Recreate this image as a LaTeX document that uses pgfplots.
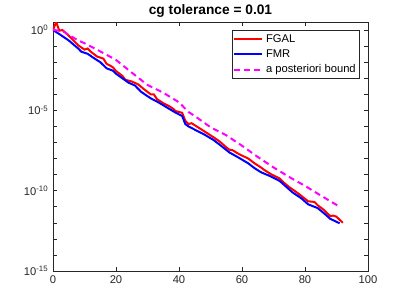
\documentclass[border=0pt]{standalone}
\usepackage{pgfplots}
\pgfplotsset{compat=1.18}
\usepackage{fontspec}
\setmainfont{Liberation Sans}
\definecolor{axgray}{rgb}{0.15,0.15,0.15}
\definecolor{mag}{rgb}{1,0,1}
\definecolor{pred}{rgb}{1,0,0}
\definecolor{pblue}{rgb}{0,0,1}
\begin{document}
\begin{tikzpicture}
\useasboundingbox (-39.75pt,-25.5pt) rectangle (265.5pt,203.25pt);
\begin{axis}[
  at={(0pt,0pt)}, anchor=south west,
  scale only axis, width=236.25pt, height=186.75pt,
  ymode=log, xmin=0, xmax=100, ymin=1e-15, ymax=3.162,
  xtick={0,20,40,60,80,100},
  ytick={1e-15,1e-10,1e-5,1},
  yticklabels={10\textsuperscript{-15},10\textsuperscript{-10},10\textsuperscript{-5},10\textsuperscript{0}},
  extra y ticks={1e-14,1e-13,1e-12,1e-11,1e-9,1e-8,1e-7,1e-6,1e-4,1e-3,1e-2,1e-1},
  extra y tick labels={},
  minor y tick num=0, yminorticks=false,
  tick align=inside, major tick length=3pt,
  tick style={axgray, line width=0.4pt},
  axis line style={axgray, line width=0.4pt},
  /pgf/number format/assume math mode=true,
  ticklabel style={font=\fontsize{8.4}{9}\selectfont, text=axgray},
  title={\textbf{cg tolerance = 0.01}},
  title style={font=\fontsize{10.3}{11}\selectfont, yshift=-6pt},
  legend style={at={(1,1)}, anchor=north east, xshift=-6pt, yshift=-6pt,
    font=\fontsize{8.4}{9}\selectfont, draw=axgray, line width=0.4pt,
    inner sep=1pt, row sep=0pt},
  legend cell align=left,
  legend image code/.code={\draw[#1] (0pt,0pt) -- (21pt,0pt);},
]
\addplot[pred, line width=1.5pt] coordinates {
(0,1) (1,3.162) (2,0.912) (3,1.0) (5,0.4467) (8,0.1122) (10,6.026e-2) (11,7.079e-2)
(12,4.467e-2) (14,2.239e-2) (16,1.660e-2) (17,7.943e-3) (18,6.310e-3) (19,4.786e-3)
(20,2.818e-3) (22,1.413e-3) (23,7.943e-4) (25,6.310e-4) (27,4.169e-4) (29,1.995e-4)
(31,1e-4) (32,1e-4) (33,5.012e-5) (35,2.818e-5) (37,1.778e-5) (38,1.318e-5)
(39,8.913e-6) (41,7.079e-6) (42,2.239e-6) (43,1.413e-6) (44,1.585e-6) (46,8.913e-7)
(48,5.012e-7) (51,2.089e-7) (53,1.122e-7) (55,5.012e-8) (56,3.548e-8) (57,3.311e-8)
(59,1.905e-8) (62,1e-8) (64,5.012e-9) (66,2.818e-9) (67,1.995e-9) (69,1.122e-9)
(72,5.623e-10) (73,3.548e-10) (75,1.660e-10) (77,8.913e-11) (79,4.467e-11)
(81,2.188e-11) (83,1.995e-11) (84,1.259e-11) (86,6.310e-12) (88,2.630e-12)
(89,2.818e-12) (90,2.399e-12) (92,1e-12)
};
\addlegendentry{FGAL}
\addplot[pblue, line width=1.5pt] coordinates {
(0,1) (2,0.5623) (5,0.2239) (8,7.079e-2) (9,4.467e-2) (11,3.311e-2) (13,1.778e-2)
(15,1e-2) (17,4.169e-3) (19,2.951e-3) (20,1.905e-3) (22,1e-3) (24,5.248e-4)
(26,3.548e-4) (28,1.413e-4) (31,5.623e-5) (33,3.548e-5) (35,2.089e-5) (37,1.202e-5)
(39,7.079e-6) (41,4.467e-6) (42,1.413e-6) (43,1e-6) (46,5.012e-7) (48,3.162e-7)
(51,1.413e-7) (53,7.079e-8) (56,2.399e-8) (59,1.122e-8) (62,5.012e-9) (64,2.512e-9)
(66,1.413e-9) (69,7.943e-10) (72,3.981e-10) (74,1.778e-10) (76,7.943e-11)
(79,3.162e-11) (81,1.413e-11) (84,8.318e-12) (86,3.981e-12) (88,1.778e-12) (91,9.333e-13)
};
\addlegendentry{FMR}
\addplot[mag, line width=1.5pt, dash pattern=on 4.5pt off 3pt] coordinates {
(0,1) (3,0.8913) (5,0.5012) (8,0.2239) (10,0.1514) (15,4.677e-2) (20,1.380e-2)
(25,2.239e-3) (30,3.802e-4) (35,1.259e-4) (40,3.162e-5) (43,7.943e-6) (45,4.467e-6)
(50,8.913e-7) (55,2.818e-7) (60,6.310e-8) (65,1.259e-8) (70,2.818e-9) (75,7.079e-10)
(80,1.995e-10) (85,5.012e-11) (91,1e-11)
};
\addlegendentry{a posteriori bound}
\end{axis}
\end{tikzpicture}
\end{document}
